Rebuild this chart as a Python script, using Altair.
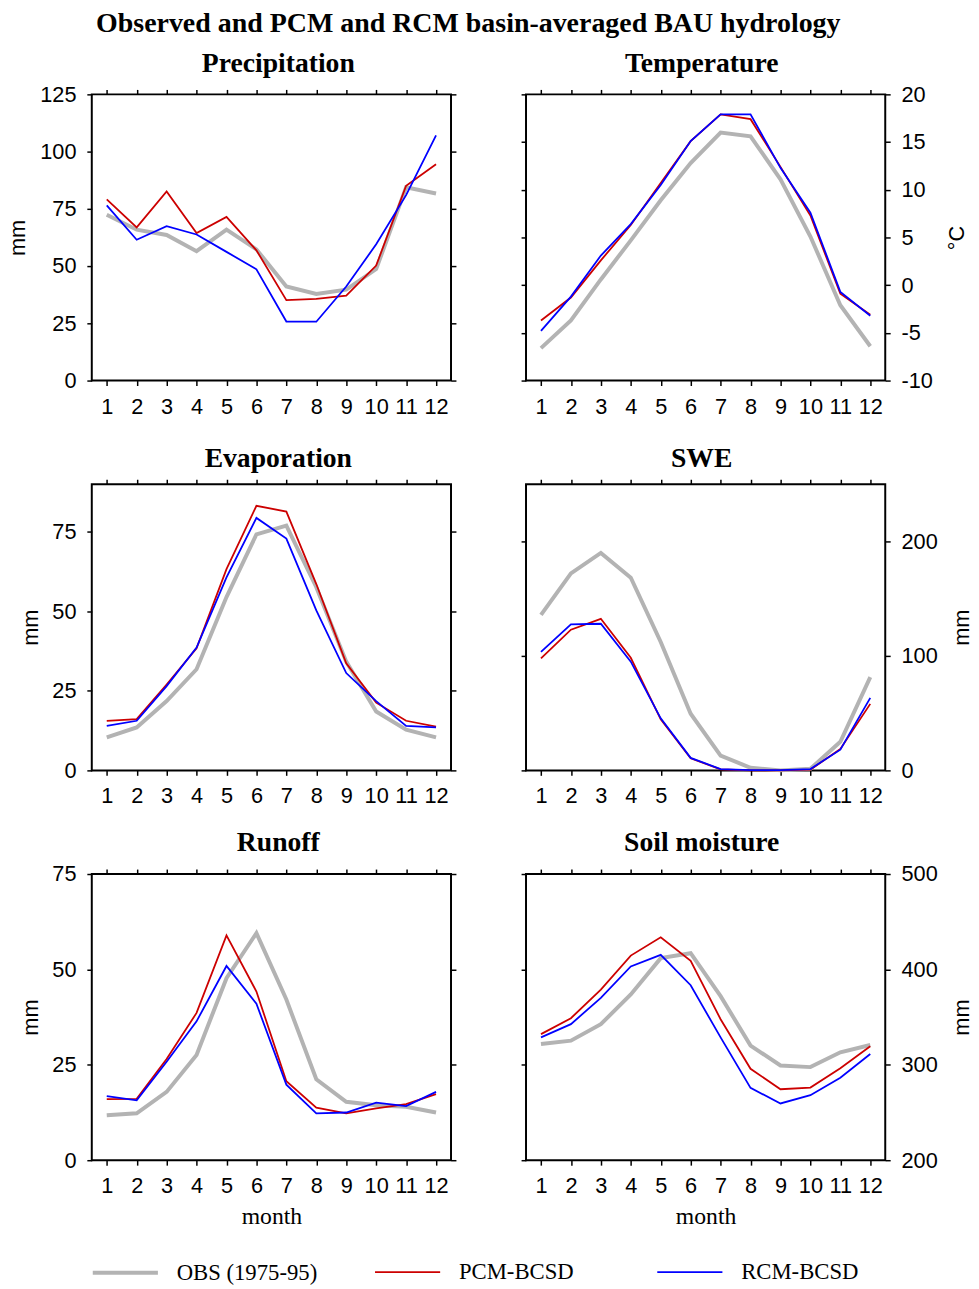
import altair as alt
import pandas as pd

months = list(range(1, 13))
series_names = ["OBS (1975-95)", "PCM-BCSD", "RCM-BCSD"]
series_colors = ["#b3b3b3", "#cc0000", "#0000ff"]
series_widths = [4, 1.8, 1.8]

precip_obs = [72.4, 65.9, 63.6, 56.5, 65.9, 57.3, 41.1, 37.8, 39.7, 48.7, 84.4, 81.7]
precip_pcm = [79.1, 66.9, 82.6, 64.4, 71.5, 56.9, 35.1, 35.7, 37.1, 50.2, 85.1, 94.5]
precip_rcm = [76.5, 61.5, 67.4, 63.8, 56.2, 48.6, 25.8, 25.7, 41.1, 59.5, 81.0, 107.1]

temp_obs = [-6.6, -3.7, 0.6, 4.7, 8.9, 12.8, 16.0, 15.6, 11.1, 5.1, -2.1, -6.4]
temp_pcm = [-3.7, -1.3, 2.6, 6.3, 10.7, 15.1, 17.9, 17.4, 12.4, 7.3, -0.9, -3.1]
temp_rcm = [-4.8, -1.2, 3.1, 6.4, 10.5, 15.1, 17.9, 17.9, 12.3, 7.6, -0.7, -3.2]

evap_obs = [10.4, 13.5, 21.8, 31.8, 54.5, 74.2, 77.0, 57.6, 34.2, 18.5, 12.8, 10.4]
evap_pcm = [15.6, 16.1, 27.0, 38.4, 63.3, 83.2, 81.4, 58.6, 33.7, 21.3, 15.6, 13.8]
evap_rcm = [14.0, 15.6, 26.5, 38.6, 60.7, 79.4, 72.9, 50.3, 30.6, 21.8, 14.0, 13.5]

swe_obs = [135.8, 172.1, 189.9, 168.3, 112.2, 49.5, 12.9, 2.3, 0.0, 1.4, 25.0, 81.4]
swe_pcm = [97.8, 122.9, 132.4, 98.4, 44.6, 10.6, 0.9, 0.0, 0.0, 0.6, 18.7, 58.1]
swe_rcm = [103.6, 127.5, 128.1, 95.0, 45.5, 10.9, 1.2, 0.3, 0.3, 1.2, 18.1, 63.3]

runoff_obs = [11.8, 12.3, 17.9, 27.6, 47.7, 59.5, 42.1, 21.2, 15.3, 14.4, 14.0, 12.5]
runoff_pcm = [16.0, 16.1, 26.5, 38.6, 58.9, 44.2, 20.7, 13.8, 12.3, 13.6, 14.7, 17.3]
runoff_rcm = [16.8, 15.7, 25.8, 36.4, 50.9, 41.0, 19.8, 12.3, 12.5, 15.1, 14.2, 17.9]

soil_obs = [321.8, 325.3, 342.6, 373.7, 411.8, 417.0, 372.0, 320.1, 299.3, 297.6, 313.1, 320.8]
soil_pcm = [332.2, 348.8, 378.9, 414.5, 433.6, 409.0, 347.8, 295.8, 274.4, 276.1, 296.5, 319.4]
soil_rcm = [328.7, 342.6, 370.2, 403.1, 415.2, 383.4, 328.7, 275.8, 259.5, 268.2, 286.5, 311.4]

SERIF = "Liberation Serif"
SANS = "Liberation Sans"
PW, PH = 364, 290


def make_df(obs, pcm, rcm):
    rows = []
    for name, vals in zip(series_names, [obs, pcm, rcm]):
        for m, v in zip(months, vals):
            rows.append({"month": m, "value": v, "series": name})
    return pd.DataFrame(rows)


def panel(obs, pcm, rcm, title, domain, ticks, side, ytitle, xtitle=None):
    df = make_df(obs, pcm, rcm)
    xs = alt.Scale(domain=[0.5, 12.5], nice=False, zero=False)
    ys = alt.Scale(domain=domain, nice=False, zero=False)
    bottom_axis = dict(orient="bottom", values=months, labelFlush=False, labelOverlap=False)
    if xtitle:
        bottom_axis.update(title=xtitle, titleFont=SERIF, titleFontSize=24,
                           titleFontWeight="normal", titlePadding=8)
    else:
        bottom_axis.update(title=None)
    lab = "toString(datum.value)"
    left_axis = dict(orient="left", values=ticks, labels=(side == "left"), labelExpr=lab,
                     title=(ytitle if side == "left" else None), titleAngle=270, titlePadding=10)
    right_axis = dict(orient="right", values=ticks, labels=(side == "right"), labelExpr=lab,
                      title=(ytitle if side == "right" else None), titleAngle=270,
                      titleBaseline="top", titlePadding=15)
    lines = alt.Chart(df).mark_line().encode(
        x=alt.X("month:Q", scale=xs, axis=alt.Axis(**bottom_axis)),
        y=alt.Y("value:Q", scale=ys, axis=alt.Axis(**left_axis)),
        color=alt.Color("series:N", scale=alt.Scale(domain=series_names, range=series_colors),
                        legend=alt.Legend(title=None)),
        strokeWidth=alt.StrokeWidth("series:N",
                                    scale=alt.Scale(type="ordinal", domain=series_names, range=series_widths),
                                    legend=alt.Legend(title=None)),
    )
    ghost = alt.Chart(df).mark_line(strokeOpacity=0).encode(
        x=alt.X("month:Q", scale=xs, axis=alt.Axis(orient="top", values=months, labels=False, title=None)),
        y=alt.Y("value:Q", scale=ys, axis=alt.Axis(**right_axis)),
        detail="series:N",
    )
    return alt.layer(lines, ghost).resolve_axis(x="independent", y="independent").properties(
        width=PW, height=PH,
        title=alt.TitleParams(title, font=SERIF, fontSize=28, fontWeight="bold",
                              anchor="middle", offset=6, dx=(7 if side == "left" else -4)),
    )


p1 = panel(precip_obs, precip_pcm, precip_rcm, "Precipitation", [0, 125], [0, 25, 50, 75, 100, 125], "left", "mm")
p2 = panel(temp_obs, temp_pcm, temp_rcm, "Temperature", [-10, 20], [-10, -5, 0, 5, 10, 15, 20], "right", "°C")
p3 = panel(evap_obs, evap_pcm, evap_rcm, "Evaporation", [0, 90], [0, 25, 50, 75], "left", "mm")
p4 = panel(swe_obs, swe_pcm, swe_rcm, "SWE", [0, 250], [0, 100, 200], "right", "mm")
p5 = panel(runoff_obs, runoff_pcm, runoff_rcm, "Runoff", [0, 75], [0, 25, 50, 75], "left", "mm", "month")
p6 = panel(soil_obs, soil_pcm, soil_rcm, "Soil moisture", [200, 500], [200, 300, 400, 500], "right", "mm", "month")

chart = alt.concat(
    p1, p2, p3, p4, p5, p6, columns=2, spacing={"row": 105, "column": 76}, bounds="flush"
).resolve_scale(
    color="shared", strokeWidth="shared"
).properties(
    title=alt.TitleParams("Observed and PCM and RCM basin-averaged BAU hydrology",
                          font=SERIF, fontSize=28.3, fontWeight="bold", anchor="middle",
                          dx=-22, offset=11),
    padding={"left": 6, "top": 0, "right": 5, "bottom": 5},
).configure_view(
    stroke="black", strokeWidth=2
).configure_axis(
    labelFont=SANS, labelFontSize=22, labelColor="black", labelPadding=11,
    tickSize=5, tickColor="black", tickWidth=1.5,
    domain=False, grid=False,
    titleFont=SANS, titleFontSize=22, titleFontWeight="normal", titleColor="black",
).configure_legend(
    orient="none", legendX=-1, legendY=1159, direction="horizontal", columns=3,
    gridAlign="all", columnPadding=54, symbolType="stroke", symbolSize=4356,
    labelFont=SERIF, labelFontSize=23, labelColor="black", labelOffset=17,
    labelLimit=400,
).configure_title(color="black")

chart.save("out.html", embed_options={"renderer": "svg", "actions": False})
